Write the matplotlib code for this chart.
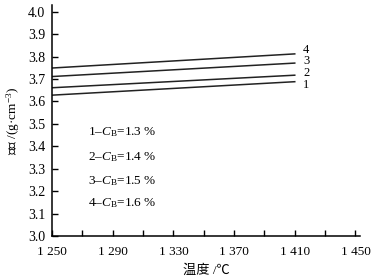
import matplotlib
matplotlib.use('Agg')
import matplotlib.pyplot as plt
from matplotlib.ticker import FixedLocator, FuncFormatter

plt.rcParams['font.family'] = ['Liberation Serif', 'Noto Sans CJK SC', 'DejaVu Sans']
plt.rcParams['mathtext.fontset'] = 'custom'
plt.rcParams['mathtext.rm'] = 'Liberation Serif'
plt.rcParams['mathtext.it'] = 'Liberation Serif:italic'

temps = [1250, 1410]
curve_ids = ['1', '2', '3', '4']
cb_values = ['1.3', '1.4', '1.5', '1.6']
density = {
    '1': [3.628, 3.688],
    '2': [3.661, 3.717],
    '3': [3.711, 3.771],
    '4': [3.749, 3.812],
}
x_ticks = [1250, 1290, 1330, 1370, 1410, 1450]
y_ticks = [3.0, 3.1, 3.2, 3.3, 3.4, 3.5, 3.6, 3.7, 3.8, 3.9, 4.0]

fig = plt.figure(figsize=(3.8, 2.79), dpi=100)
ax = fig.add_axes([52 / 380, 43 / 279, 308 / 380, 231 / 279])

# small vertical nudges (points) so the end labels don't collide
label_shift = {'1': -2.5, '2': 1.5, '3': 1.5, '4': 3}
for cid in curve_ids:
    ax.plot(temps, density[cid], color='#222222', lw=1.1)
    ax.annotate(cid, (temps[-1], density[cid][-1]), xytext=(6, label_shift[cid]),
                textcoords='offset points', fontsize=9, va='center', ha='left')

legend_y = [3.465, 3.35, 3.245, 3.145]
for cid, cb, yy in zip(curve_ids, cb_values, legend_y):
    ax.text(1274, yy, cid + '\u2013$\\mathit{C}_{\\mathrm{B}}$=' + cb + ' %',
            fontsize=9.5, va='center', ha='left')

ax.set_xlim(1250, 1453)
ax.set_ylim(3.0, 4.03)
ax.xaxis.set_major_locator(FixedLocator(x_ticks))
ax.xaxis.set_minor_locator(FixedLocator([1270, 1310, 1350, 1390, 1430]))
ax.yaxis.set_major_locator(FixedLocator(y_ticks))
ax.xaxis.set_major_formatter(FuncFormatter(lambda v, p: f'{int(v) // 1000} {int(v) % 1000:03d}'))
ax.yaxis.set_major_formatter(FuncFormatter(lambda v, p: f'{v:.1f}'))
ax.tick_params(direction='in', length=4, width=1, labelsize=9.5)
ax.tick_params(axis='y', labelsize=10, pad=5)
ax.tick_params(axis='x', which='minor', direction='in', length=4, width=1)
ax.tick_params(axis='x', pad=7)
for s in ['top', 'right']:
    ax.spines[s].set_visible(False)
for s in ['left', 'bottom']:
    ax.spines[s].set_linewidth(1.1)

ax.set_xlabel('温度 /℃', fontsize=9.5, labelpad=5)
ax.set_ylabel('密度 /(g·cm$^{-3}$)', fontsize=9.5, labelpad=4)

fig.savefig('out.png', dpi=100)
